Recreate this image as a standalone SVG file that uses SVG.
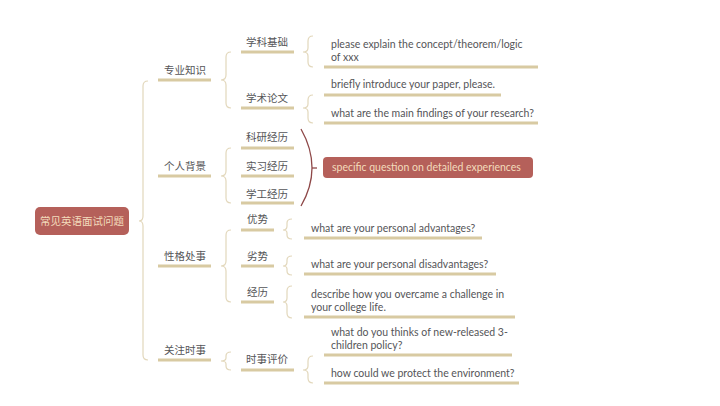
<svg xmlns="http://www.w3.org/2000/svg" width="720" height="406" viewBox="0 0 720 406">
<style>
text{font-family:Lato,"Noto Sans CJK SC",sans-serif;fill:#555558;}
.zh{font-size:10.5px;text-anchor:middle;}
.en{font-size:10.5px;}
.ul{stroke:#d8caa2;stroke-width:3;fill:none;}
.br{stroke:#e2d7bb;stroke-width:1.2;fill:none;}
.red{fill:#b5605a;}
.lt{fill:#f3dcbc;}
</style>
<rect width="720" height="406" fill="#ffffff"/>
<g id="connectors">
<path class="br" d="M148 81 Q143 81 143 86 L143 216 Q143 221 139 221 Q143 221 143 226 L143 355 Q143 360 148 360"/>
<path class="br" d="M231 52 Q226 52 226 57 L226 75 Q226 80 221 80 Q226 80 226 85 L226 103 Q226 108 231 108"/>
<path class="br" d="M231 148 Q226 148 226 153 L226 171 Q226 176 221 176 Q226 176 226 181 L226 198 Q226 203 231 203"/>
<path class="br" d="M231 230 Q226 230 226 235 L226 261 Q226 266 221 266 Q226 266 226 271 L226 297 Q226 302 231 302"/>
<path class="br" d="M231 352 Q226 352 226 356 L226 358 Q226 361 221 361 Q226 361 226 364 L226 366 Q226 370 231 370"/>
<path class="br" d="M313 36 Q308 36 308 41 L308 48 Q308 52 303 52 Q308 52 308 56 L308 62 Q308 67 313 67"/>
<path class="br" d="M313 95 Q308 95 308 100 L308 104 Q308 108 303 108 Q308 108 308 112 L308 118 Q308 123 313 123"/>
<path class="br" d="M313 356 Q308 356 308 361 L308 366 Q308 370 303 370 Q308 370 308 374 L308 378 Q308 383 313 383"/>
<path class="br" d="M292 219 Q287 219 287 223 L287 226 Q287 230 283 230 Q287 230 287 233 L287 235 Q287 239 292 239"/>
<path class="br" d="M292 256 Q287 256 287 260 L287 262 Q287 266 283 266 Q287 266 287 269 L287 271 Q287 275 292 275"/>
<path class="br" d="M292 286 Q287 286 287 291 L287 298 Q287 302 283 302 Q287 302 287 306 L287 313 Q287 318 292 318"/>
<path d="M301 129 Q323 168 301 206" fill="none" stroke="#8e4848" stroke-width="1.3"/>
<path d="M312 168 L317 168" fill="none" stroke="#8e4848" stroke-width="1.3"/>
</g>
<g id="root">
<rect class="red" x="35" y="207" width="94" height="28" rx="5"/>
<text class="zh lt" x="82" y="225">常见英语面试问题</text>
</g>
<g id="n-zhuanye"><text class="zh" x="185" y="74">专业知识</text><path class="ul" d="M158 80 H211"/></g>
<g id="n-geren"><text class="zh" x="185" y="170">个人背景</text><path class="ul" d="M158 176 H211"/></g>
<g id="n-xingge"><text class="zh" x="185" y="260">性格处事</text><path class="ul" d="M158 266 H211"/></g>
<g id="n-guanzhu"><text class="zh" x="185" y="354">关注时事</text><path class="ul" d="M158 360 H211"/></g>
<g id="n-xueke"><text class="zh" x="267" y="46">学科基础</text><path class="ul" d="M241 52 H294"/></g>
<g id="n-xueshu"><text class="zh" x="267" y="102">学术论文</text><path class="ul" d="M241 108 H294"/></g>
<g id="n-keyan"><text class="zh" x="267" y="141">科研经历</text><path class="ul" d="M241 148 H294"/></g>
<g id="n-shixi"><text class="zh" x="267" y="170">实习经历</text><path class="ul" d="M241 176 H294"/></g>
<g id="n-xuegong"><text class="zh" x="267" y="198">学工经历</text><path class="ul" d="M241 203 H294"/></g>
<g id="n-youshi"><text class="zh" x="257.5" y="223">优势</text><path class="ul" d="M241 230 H274"/></g>
<g id="n-lieshi"><text class="zh" x="257.5" y="260">劣势</text><path class="ul" d="M241 266 H274"/></g>
<g id="n-jingli"><text class="zh" x="257.5" y="296">经历</text><path class="ul" d="M241 302 H274"/></g>
<g id="n-shishi"><text class="zh" x="267" y="363">时事评价</text><path class="ul" d="M241 370 H294"/></g>
<g id="n-q1"><text class="en" x="331" y="48">please explain the concept/theorem/logic</text><text class="en" x="331" y="61">of xxx</text><path class="ul" d="M324 67 H538"/></g>
<g id="n-q2"><text class="en" x="331" y="88">briefly introduce your paper, please.</text><path class="ul" d="M324 95 H501"/></g>
<g id="n-q3"><text class="en" x="331" y="117">what are the main findings of your research?</text><path class="ul" d="M324 123 H538"/></g>
<g id="n-q4">
<rect class="red" x="323" y="157" width="210" height="21" rx="4"/>
<text class="en lt" x="332" y="171">specific question on detailed experiences</text>
</g>
<g id="n-q5"><text class="en" x="311" y="232">what are your personal advantages?</text><path class="ul" d="M304 238 H482"/></g>
<g id="n-q6"><text class="en" x="311" y="268">what are your personal disadvantages?</text><path class="ul" d="M304 274 H496"/></g>
<g id="n-q7"><text class="en" x="311" y="298">describe how you overcame a challenge in</text><text class="en" x="311" y="311">your college life.</text><path class="ul" d="M304 317 H515"/></g>
<g id="n-q8"><text class="en" x="331" y="336">what do you thinks of new-released 3-</text><text class="en" x="331" y="349">children policy?</text><path class="ul" d="M324 355 H512"/></g>
<g id="n-q9"><text class="en" x="331" y="377">how could we protect the environment?</text><path class="ul" d="M324 383 H519"/></g>
</svg>
